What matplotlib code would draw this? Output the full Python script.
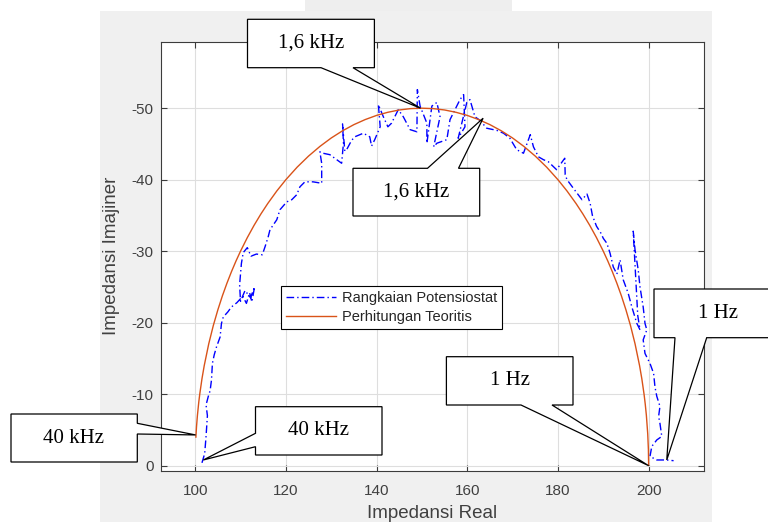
import matplotlib
matplotlib.use("Agg")
import matplotlib.pyplot as plt
from matplotlib.patches import Polygon, Rectangle

plt.rcParams['axes.unicode_minus'] = False
plt.rcParams['font.family'] = ['Liberation Sans', 'DejaVu Sans']

# ---------------- data ----------------
meas_x = [101.5, 102.1, 102.4, 102.7, 102.4, 102.9, 103.3, 103.6, 103.8, 104.2,
          104.7, 105.5, 105.8, 106.2, 107.2, 108.0, 109.2, 110.5, 111.3, 112.0,
          112.5, 113.1, 112.2, 111.0, 110.0, 109.8, 110.2, 110.6, 111.5, 112.3,
          113.5, 114.8, 115.4, 116.1, 116.5, 118.0, 118.7, 120.2, 121.3, 122.4,
          123.1, 124.2, 126.0, 127.9, 127.9, 127.5, 128.2, 129.7, 131.2, 132.3,
          132.7, 132.5, 133.0, 133.4, 134.5, 135.2, 137.1, 138.5, 138.9, 139.6,
          140.8, 140.4, 141.5, 142.5, 143.3, 144.8, 145.9, 147.4, 148.9, 149.0,
          149.6, 150.4, 151.1, 151.1, 152.2, 153.3, 154.0, 152.6, 153.3, 155.5,
          156.2, 157.3, 158.4, 159.2, 159.5, 158.0, 159.9, 160.6, 161.7, 162.8,
          164.3, 166.5, 168.0, 169.4, 170.9, 172.4, 173.9, 174.6, 175.7, 176.8,
          177.9, 179.7, 181.5, 181.6, 182.0, 183.4, 185.3, 186.4, 187.1, 187.6,
          188.5, 189.5, 190.0, 190.8, 191.5, 192.2, 193.0, 193.7, 194.4, 195.5,
          196.3, 197.4, 198.1, 197.6, 196.6, 197.0, 197.7, 198.1, 198.8, 199.2,
          199.6, 198.8, 199.2, 199.6, 200.3, 201.1, 201.4, 201.8, 202.5, 202.2,
          202.5, 202.9, 201.8, 200.7, 200.3, 201.8, 203.3, 204.0, 205.5]
meas_y = [-0.4, -1.7, -4.1, -7.0, -8.5, -9.7, -10.5, -12.0, -14.3, -15.5,
          -16.6, -18.0, -19.9, -20.8, -21.5, -22.2, -22.8, -23.7, -22.7, -24.2,
          -22.9, -25.0, -23.5, -24.5, -23.0, -25.3, -28.3, -29.8, -30.5, -29.3,
          -29.6, -29.5, -30.6, -32.0, -33.0, -34.4, -35.8, -36.9, -37.2, -37.9,
          -39.0, -39.7, -39.7, -39.5, -42.3, -43.9, -43.7, -43.5, -42.8, -42.3,
          -45.1, -47.8, -44.0, -44.2, -45.5, -46.0, -46.5, -46.0, -44.7, -45.6,
          -47.4, -50.5, -48.8, -47.4, -47.9, -49.8, -48.8, -47.0, -46.7, -52.6,
          -50.3, -49.0, -47.9, -45.1, -50.3, -50.8, -48.8, -44.6, -45.1, -45.6,
          -48.4, -49.8, -51.2, -51.9, -47.4, -45.8, -50.8, -51.2, -48.8, -48.3,
          -47.2, -46.9, -46.5, -45.8, -44.2, -43.7, -46.3, -44.6, -43.2, -42.8,
          -42.5, -41.4, -43.0, -40.7, -40.0, -38.8, -37.2, -38.0, -36.7, -35.0,
          -33.5, -32.5, -31.8, -31.1, -29.7, -27.8, -26.8, -28.8, -26.0, -24.1,
          -22.2, -19.9, -19.0, -21.0, -32.8, -30.2, -27.4, -25.0, -22.2, -19.9,
          -19.0, -17.6, -15.7, -15.2, -14.3, -12.9, -11.0, -9.7, -8.3, -6.9,
          -5.9, -4.1, -3.6, -2.7, -1.3, -0.8, -0.8, -0.8, -0.7]

theo_x = [100.16, 100.3, 100.5, 100.8, 101, 101.5, 102, 103, 104, 105, 106, 107,
          108, 109, 110, 111.5, 113, 114.5, 116, 118, 120, 122.5, 125, 127.5, 130,
          132.5, 135, 137.5, 140, 142.5, 145, 147.5, 150, 152.5, 155, 157.5, 160,
          162.5, 165, 167.5, 170, 172.5, 175, 177.5, 180, 182, 184, 185.5, 187,
          188.5, 190, 191, 192, 193, 194, 195, 196, 197, 198, 198.5, 199, 199.25,
          199.5, 199.8, 199.95, 200]
theo_y = [-4.0, -5.47, -7.05, -8.91, -9.95, -12.16, -14.0, -17.06, -19.6, -21.79,
          -23.75, -25.51, -27.13, -28.62, -30.0, -31.90, -33.63, -35.21, -36.66,
          -38.42, -40.0, -41.76, -43.3, -44.65, -45.83, -46.84, -47.7, -48.41,
          -48.99, -49.43, -49.75, -49.94, -50.0, -49.94, -49.75, -49.43, -48.99,
          -48.41, -47.7, -46.84, -45.83, -44.65, -43.3, -41.76, -40.0, -38.42,
          -36.66, -35.21, -33.63, -31.90, -30.0, -28.62, -27.13, -25.51, -23.75,
          -21.79, -19.6, -17.06, -14.0, -12.16, -9.95, -8.63, -7.05, -4.47, -2.24,
          -0.06]

series_labels = ['Rangkaian Potensiostat', 'Perhitungan Teoritis']
x_ticks = [100, 120, 140, 160, 180, 200]
y_ticks = [-50, -40, -30, -20, -10, 0]

callout_texts = ['1,6 kHz', '1,6 kHz', '1 Hz', '1 Hz', '40 kHz', '40 kHz']
callout_tips = [(149.7, -50.0), (163.5, -48.6), (200.0, 0.0), (204.0, -0.8),
                (100.1, -4.3), (101.8, -0.8)]

# ---------------- figure ----------------
W, H = 768, 522
fig = plt.figure(figsize=(W / 100, H / 100), dpi=100)
fig.patch.set_facecolor('white')

fig.add_artist(Rectangle((100 / W, 0), (712 - 100) / W, (H - 11) / H,
                         transform=fig.transFigure, facecolor='#f0f0f0',
                         edgecolor='none', zorder=-10))
fig.add_artist(Rectangle((305 / W, (H - 11) / H), (512 - 305) / W, 11 / H,
                         transform=fig.transFigure, facecolor='#eeeeee',
                         edgecolor='none', zorder=-10))

L, R, T, B = 160.7, 703.5, 41.7, 470.7
ax = fig.add_axes([L / W, (H - B) / H, (R - L) / W, (B - T) / H])
ax.set_facecolor('white')

ax.plot(meas_x, meas_y, color='#0000ff', lw=1.0, linestyle=(0, (5.5, 2.2, 1.0, 2.2)),
        label=series_labels[0], zorder=3)
ax.plot(theo_x, theo_y, color='#d95319', lw=1.0, label=series_labels[1], zorder=3)

ax.set_xlim(92.4, 212.1)
ax.set_ylim(0.7, -59.3)
ax.set_xticks(x_ticks)
ax.set_yticks(y_ticks)
ax.grid(True, color='#dedede', linewidth=0.8)
ax.set_axisbelow(True)
ax.tick_params(direction='in', top=True, right=True, length=4, width=0.8,
               color='#3c3c3c', labelcolor='#404040', labelsize=11)
ax.tick_params(axis='x', pad=9.5)
ax.tick_params(axis='y', pad=5)
for s in ax.spines.values():
    s.set_color('#3c3c3c')
    s.set_linewidth(0.8)

ax.set_xlabel('Impedansi Real', fontsize=13.5, color='#404040')
ax.set_ylabel('Impedansi Imajiner', fontsize=13.5, color='#404040')
ax.xaxis.label.set_va('center')
ax.yaxis.label.set_va('center')
ax.xaxis.set_label_coords(0.5, (B - 513) / (B - T))
ax.yaxis.set_label_coords((112 - L) / (R - L), 0.5)

leg = ax.legend(loc='upper left', bbox_to_anchor=((281 - L) / (R - L), (B - 286) / (B - T)),
                borderaxespad=0, fancybox=False, edgecolor='black', framealpha=1,
                fontsize=10.5, handlelength=3.4, handletextpad=0.4,
                labelspacing=0.35, borderpad=0.35)
leg.get_frame().set_linewidth(0.8)
for t in leg.get_texts():
    t.set_color('#262626')


# ---------------- callouts ----------------
def pf(px, py):
    return (px / W, 1 - py / H)


def tipf(tip):
    d = ax.transData.transform(tip)
    return tuple(fig.transFigure.inverted().transform(d))


def callout(verts_px, tip, text, text_px):
    verts = [tipf(tip) if v == 'TIP' else pf(*v) for v in verts_px]
    fig.add_artist(Polygon(verts, closed=True, transform=fig.transFigure,
                           facecolor='white', edgecolor='black', lw=0.9,
                           zorder=5, clip_on=False))
    fig.text(*pf(*text_px), text, ha='center', va='center',
             fontfamily='Liberation Serif', fontsize=15, color='black', zorder=6)


shapes = [
    ([(247.5, 19.3), (374.4, 19.3), (374.4, 67.7), (353, 67.7), 'TIP', (321, 67.7), (247.5, 67.7)],
     (311, 43.5)),
    ([(353, 168.3), (427.5, 168.3), 'TIP', (458.5, 168.3), (479.7, 168.3), (479.7, 216), (353, 216)],
     (416.4, 192.2)),
    ([(446.4, 356.7), (573, 356.7), (573, 405), (552, 405), 'TIP', (521, 405), (446.4, 405)],
     (509.7, 380.9)),
    ([(654, 289), (800, 289), (800, 337.7), (706.7, 337.7), 'TIP', (675, 337.7), (654, 337.7)],
     (718, 313)),
    ([(11, 414), (137.3, 414), (137.3, 423.3), 'TIP', (137.3, 434), (137.3, 462), (11, 462)],
     (73.3, 438.5)),
    ([(255.5, 406.7), (382, 406.7), (382, 455), (255.5, 455), (255.5, 446.7), 'TIP', (255.5, 433.3)],
     (318.8, 430.8)),
]
for (verts, tpx), txt, tip in zip(shapes, callout_texts, callout_tips):
    callout(verts, tip, txt, tpx)

fig.savefig('out.png', dpi=100)
